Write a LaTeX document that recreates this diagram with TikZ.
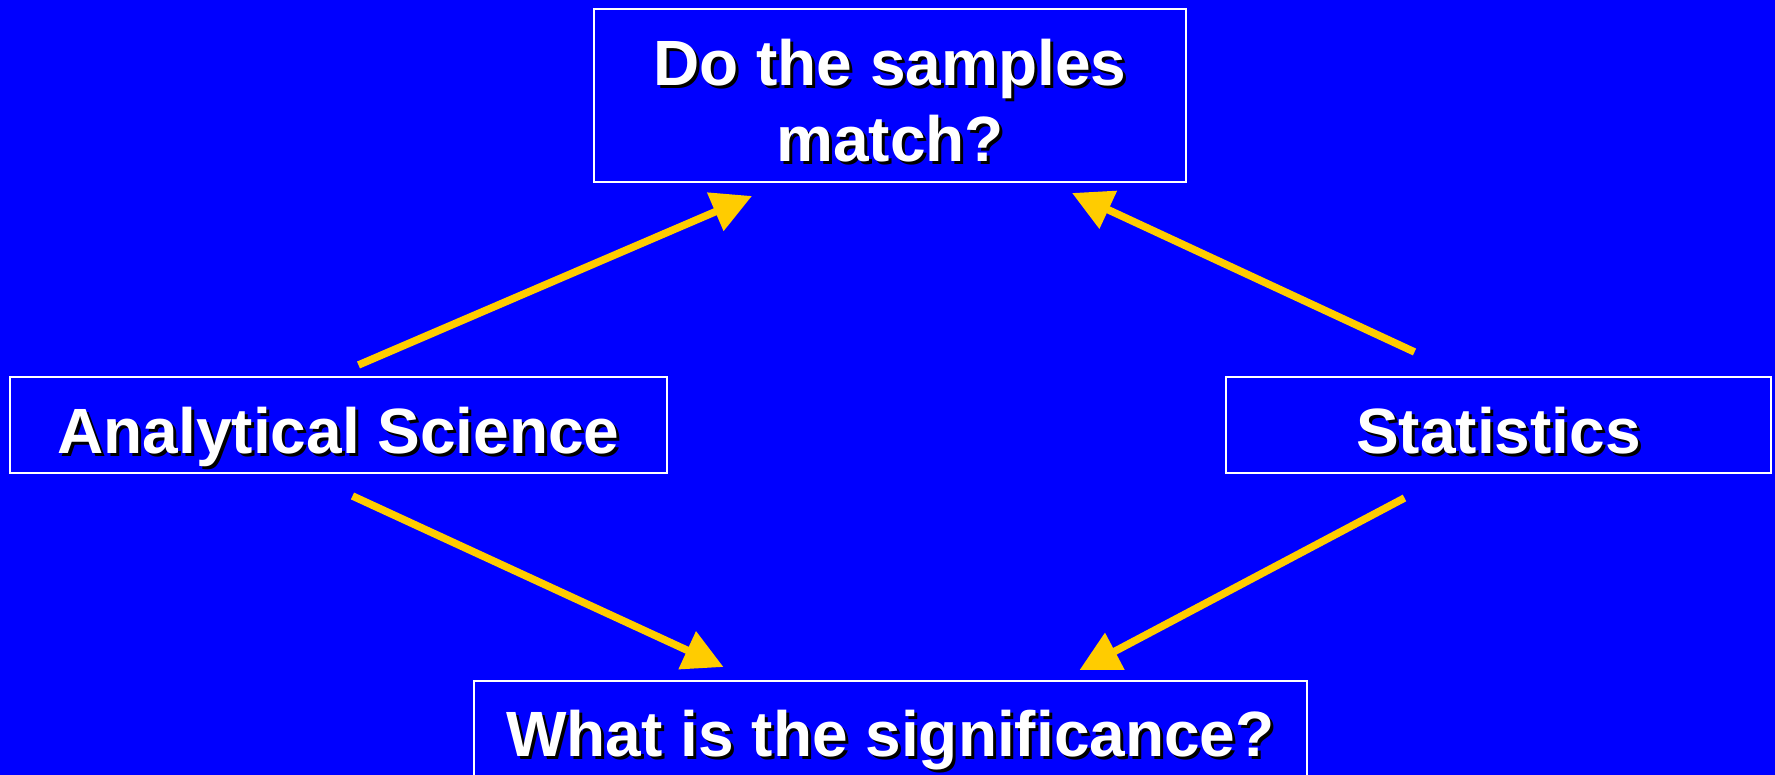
\documentclass[tikz,border=0pt]{standalone}
\usepackage{fontspec}
\setmainfont{Liberation Sans}
\usetikzlibrary{arrows.meta}
\definecolor{slideblue}{RGB}{0,0,255}
\definecolor{arrowgold}{RGB}{255,204,0}
\newcommand{\shtext}[1]{\rlap{\kern3pt\raisebox{-3pt}{\color{black}#1}}#1}

\begin{document}
\begin{tikzpicture}[x=1pt,y=1pt]
\tikzstyle{box}=[rectangle,draw=white,line width=2pt,text=white,inner sep=0pt,font=\fontsize{64}{76}\selectfont\bfseries,align=center]
\tikzstyle{link}=[draw=arrowgold,line width=7.5pt,-{Triangle[length=40pt,width=40pt]}]
\fill[slideblue] (0,0) rectangle (1775,775);
\useasboundingbox (0,0) rectangle (1775,775);

\node[box,minimum width=592pt,minimum height=173pt](ask) at (890,679.5) {\raisebox{-13pt}[\height][\depth]{\begin{tabular}{@{}c@{}}\shtext{Do the samples}\\\shtext{match?}\end{tabular}}};
\node[box,minimum width=657pt,minimum height=96pt,text height=58pt,text depth=0pt](ana) at (338.5,350) {\shtext{Analytical Science}};
\node[box,minimum width=545pt,minimum height=96pt,text height=58pt,text depth=0pt](stat) at (1498.5,350) {\shtext{Statistics}};
\node[box,minimum width=833pt,minimum height=100pt,text height=52pt,text depth=0pt](sig) at (890.5,44) {\shtext{What is the significance?}};

\draw[link] ([xshift=20pt,yshift=11pt]ana.north) -- ([xshift=-138pt,yshift=-13pt]ask.south);
\draw[link] ([xshift=-84pt,yshift=24pt]stat.north) -- ([xshift=182pt,yshift=-10pt]ask.south);
\draw[link] ([xshift=14pt,yshift=-22pt]ana.south) -- ([xshift=-167pt,yshift=13pt]sig.north);
\draw[link] ([xshift=-94pt,yshift=-24pt]stat.south) -- ([xshift=189pt,yshift=10pt]sig.north);
\end{tikzpicture}
\end{document}
